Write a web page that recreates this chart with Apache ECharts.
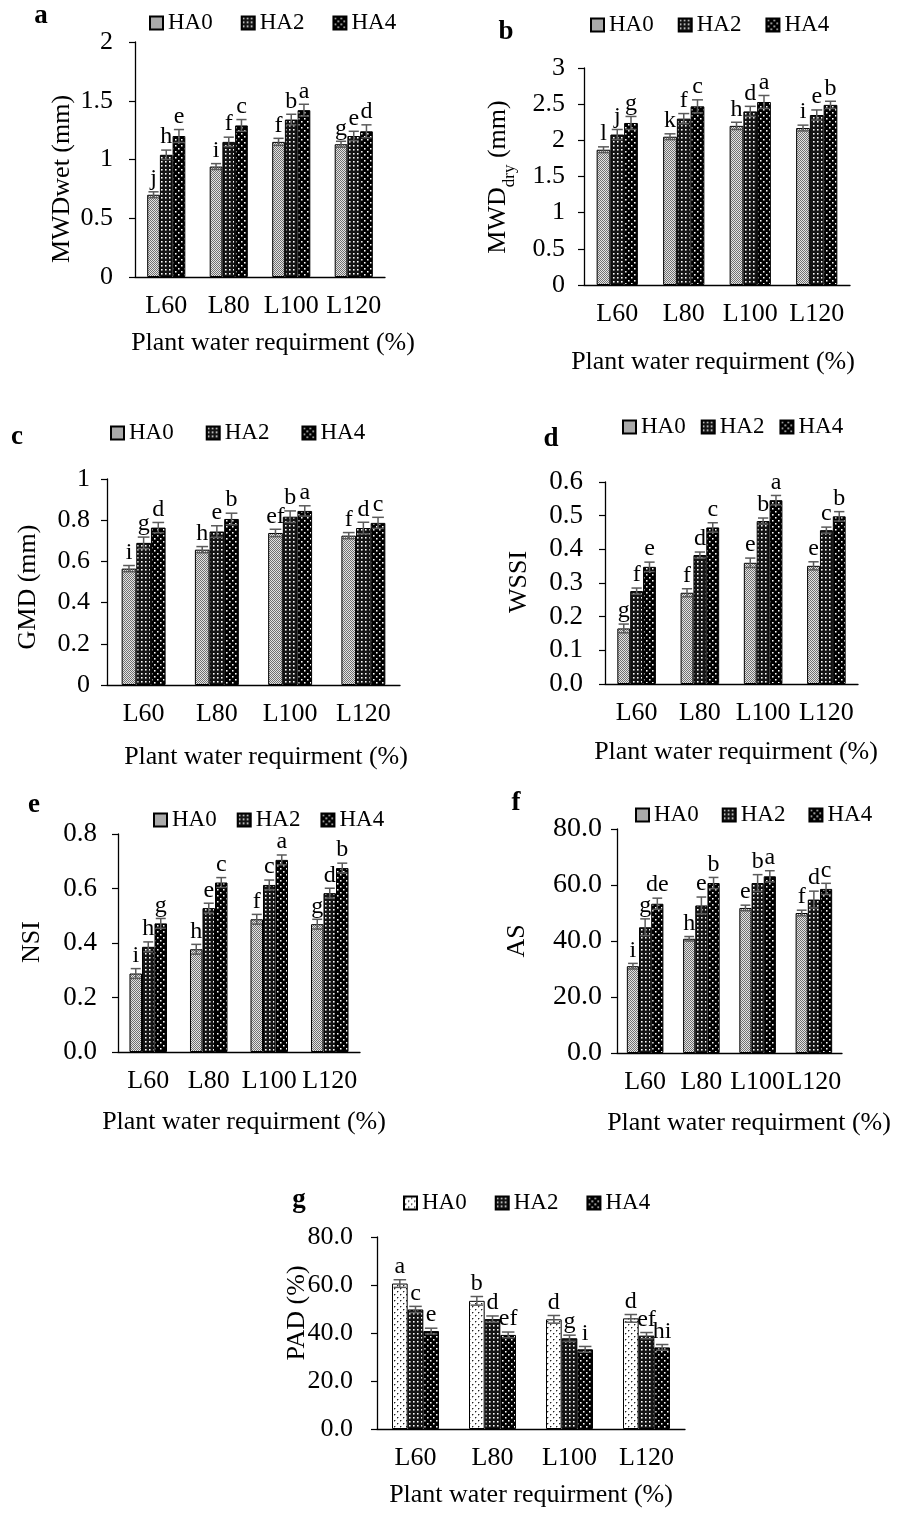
<!DOCTYPE html>
<html><head><meta charset="utf-8">
<script src="https://cdn.jsdelivr.net/npm/echarts@6/dist/echarts.min.js"></script>
<style>html,body{margin:0;padding:0;background:#fff}#c{width:897px;height:1513px}</style>
</head><body><div id="c"></div>
<script>
const categories = ['L60', 'L80', 'L100', 'L120'];
const treatments = ['HA0', 'HA2', 'HA4'];

// a: MWDwet (mm)  rows = HA0, HA2, HA4 ; columns = L60..L120
const mwdWetMean = [[0.70, 0.94, 1.15, 1.13], [1.04, 1.15, 1.34, 1.20], [1.20, 1.29, 1.42, 1.24]];
const mwdWetErr  = [[0.025, 0.025, 0.03, 0.025], [0.04, 0.04, 0.045, 0.04], [0.055, 0.05, 0.05, 0.055]];
const mwdWetSig  = [['j', 'i', 'f', 'g'], ['h', 'f', 'b', 'e'], ['e', 'c', 'a', 'd']];

// b: MWDdry (mm)
const mwdDryMean = [[1.87, 2.05, 2.20, 2.17], [2.08, 2.30, 2.40, 2.35], [2.24, 2.47, 2.53, 2.49]];
const mwdDryErr  = [[0.04, 0.04, 0.05, 0.04], [0.07, 0.07, 0.07, 0.07], [0.09, 0.09, 0.09, 0.05]];
const mwdDrySig  = [['l', 'k', 'h', 'i'], ['j', 'f', 'd', 'e'], ['g', 'c', 'a', 'b']];

// c: GMD (mm)
const gmdMean = [[0.565, 0.657, 0.738, 0.725], [0.690, 0.745, 0.817, 0.762], [0.764, 0.806, 0.845, 0.787]];
const gmdErr  = [[0.015, 0.015, 0.018, 0.015], [0.028, 0.028, 0.028, 0.028], [0.025, 0.028, 0.025, 0.027]];
const gmdSig  = [['i', 'h', 'ef', 'f'], ['g', 'e', 'b', 'd'], ['d', 'b', 'a', 'c']];

// d: WSSI
const wssiMean = [[0.165, 0.271, 0.360, 0.351], [0.276, 0.383, 0.484, 0.457], [0.348, 0.465, 0.546, 0.498]];
const wssiErr  = [[0.013, 0.012, 0.014, 0.012], [0.009, 0.009, 0.009, 0.009], [0.014, 0.014, 0.014, 0.014]];
const wssiSig  = [['g', 'f', 'e', 'e'], ['f', 'd', 'b', 'c'], ['e', 'c', 'a', 'b']];

// e: NSI
const nsiMean = [[0.288, 0.377, 0.487, 0.469], [0.386, 0.528, 0.613, 0.583], [0.472, 0.622, 0.705, 0.675]];
const nsiErr  = [[0.018, 0.018, 0.018, 0.018], [0.018, 0.018, 0.018, 0.018], [0.018, 0.018, 0.018, 0.018]];
const nsiSig  = [['i', 'h', 'f', 'g'], ['h', 'e', 'c', 'd'], ['g', 'c', 'a', 'b']];

// f: AS
const asMean = [[31.0, 40.8, 51.8, 50.0], [44.9, 52.7, 60.7, 54.8], [53.3, 60.7, 63.1, 58.6]];
const asErr  = [[1.0, 0.8, 1.0, 1.0], [3.0, 3.0, 3.0, 3.0], [2.0, 2.0, 2.0, 2.0]];
const asSig  = [['i', 'h', 'e', 'f'], ['g', 'e', 'b', 'd'], ['de', 'b', 'a', 'c']];

// g: PAD (%)
const padMean = [[60.6, 53.4, 45.7, 46.1], [49.8, 45.8, 37.8, 38.9], [40.8, 39.2, 33.2, 34.0]];
const padErr  = [[1.6, 1.8, 1.6, 1.6], [1.3, 1.3, 1.3, 1.3], [1.2, 1.2, 1.2, 1.2]];
const padSig  = [['a', 'b', 'd', 'd'], ['c', 'd', 'g', 'ef'], ['e', 'ef', 'i', 'hi']];

const FF = '"Liberation Serif","Times New Roman",Times,serif';

function pat(w, h, bg, pts) {
  const c = document.createElement('canvas');
  c.width = w; c.height = h;
  const g = c.getContext('2d');
  g.fillStyle = bg; g.fillRect(0, 0, w, h);
  pts.forEach(p => { g.fillStyle = p[4]; g.fillRect(p[0], p[1], p[2], p[3]); });
  return { image: c, repeat: 'repeat' };
}
const pGray = pat(2, 2, '#e4e4e4', [[0, 0, 1, 1, '#707070'], [1, 1, 1, 1, '#707070']]);
const pDense = pat(4, 4, '#141414', [[1, 1, 1, 1, '#ffffff'], [2, 1, 1, 1, '#9a9a9a'], [1, 2, 1, 1, '#9a9a9a'], [2, 2, 1, 1, '#5a5a5a']]);
const pSparse = pat(6, 6, '#000000', [[1, 1, 1, 1, '#ffffff'], [2, 1, 1, 1, '#8a8a8a'], [1, 2, 1, 1, '#8a8a8a'], [2, 2, 1, 1, '#4a4a4a'],
                                     [4, 4, 1, 1, '#ffffff'], [5, 4, 1, 1, '#8a8a8a'], [4, 5, 1, 1, '#8a8a8a'], [5, 5, 1, 1, '#4a4a4a']]);
const pWhiteDot = pat(6, 6, '#ffffff', [[1, 1, 1, 1, '#222'], [2, 1, 1, 1, '#aaa'], [1, 2, 1, 1, '#aaa'],
                                        [4, 4, 1, 1, '#222'], [5, 4, 1, 1, '#aaa'], [4, 5, 1, 1, '#aaa']]);

const panels = [
  { key: 'a', mean: mwdWetMean, err: mwdWetErr, sig: mwdWetSig, grid: [135, 42, 250, 235], y: [0, 2, 0.5], fmt: null, gap: 39, yMargin: 22, ySize: 26, legend: [149, 11.5, 28], pats: [pGray, pDense, pSparse],
    letter: [41, 16], yTitle: { x: 62, y: 179, text: 'MWDwet (mm)' }, xTitle: [273, 343] },
  { key: 'b', mean: mwdDryMean, err: mwdDryErr, sig: mwdDrySig, grid: [584, 68, 266, 217], y: [0, 3, 0.5], fmt: null, gap: 38, yMargin: 19, ySize: 26, legend: [590, 13.5, 24], pats: [pGray, pDense, pSparse],
    letter: [506, 32], yTitle: { x: 500, y: 177, text: '{m|MWD}{s|dry}{m| (mm)}' }, xTitle: [713, 362] },
  { key: 'c', mean: gmdMean, err: gmdErr, sig: gmdSig, grid: [107, 479, 293, 206], y: [0, 1, 0.2], fmt: null, gap: 40, yMargin: 17, ySize: 26, legend: [110, 421.5, 32], pats: [pGray, pDense, pSparse],
    letter: [17, 437], yTitle: { x: 28, y: 587, text: 'GMD (mm)' }, xTitle: [266, 757] },
  { key: 'd', mean: wssiMean, err: wssiErr, sig: wssiSig, grid: [605, 482, 253, 202], y: [0, 0.6, 0.1], fmt: 1, gap: 39, yMargin: 22, ySize: 27, legend: [622, 415.5, 15], pats: [pGray, pDense, pSparse],
    letter: [551, 439], yTitle: { x: 519, y: 582, text: 'WSSI' }, xTitle: [736, 752] },
  { key: 'e', mean: nsiMean, err: nsiErr, sig: nsiSig, grid: [118, 834, 242, 218], y: [0, 0.8, 0.2], fmt: 1, gap: 38, yMargin: 21, ySize: 27, legend: [153, 808.5, 20], pats: [pGray, pDense, pSparse],
    letter: [34, 805], yTitle: { x: 32, y: 942, text: 'NSI' }, xTitle: [244, 1122] },
  { key: 'f', mean: asMean, err: asErr, sig: asSig, grid: [617, 829, 225, 224], y: [0, 80, 20], fmt: 1, gap: 35, yMargin: 15, ySize: 28, legend: [635, 803.5, 23], pats: [pGray, pDense, pSparse],
    letter: [516, 803], yTitle: { x: 517, y: 941, text: 'AS' }, xTitle: [749, 1123] },
  { key: 'g', mean: padMean, err: padErr, sig: padSig, grid: [377, 1237, 308, 192], y: [0, 80, 20], fmt: 1, gap: 39, yMargin: 24, ySize: 26, legend: [403, 1191.5, 28], pats: [pWhiteDot, pDense, pSparse],
    letter: [299, 1200], yTitle: { x: 297, y: 1313, text: 'PAD (%)' }, xTitle: [531, 1495] }
];

const option = {
  animation: false,
  backgroundColor: '#fff',
  textStyle: { fontFamily: FF, color: '#000' },
  grid: [], xAxis: [], yAxis: [], legend: [], series: [], graphic: []
};

panels.forEach((p, i) => {
  option.grid.push({ left: p.grid[0], top: p.grid[1], width: p.grid[2], height: p.grid[3], containLabel: false, outerBoundsMode: 'none' });
  option.xAxis.push({
    type: 'category', gridIndex: i, data: categories,
    axisLine: { lineStyle: { color: '#000', width: 1.3 } }, axisTick: { show: false },
    axisLabel: { interval: 0, fontSize: 26, fontFamily: FF, color: '#000', margin: 16 }
  });
  option.yAxis.push({
    type: 'value', gridIndex: i, min: p.y[0], max: p.y[1], interval: p.y[2],
    splitLine: { show: false },
    axisLine: { show: true, lineStyle: { color: '#000', width: 1.3 } },
    axisTick: { show: true, length: 6, lineStyle: { color: '#000', width: 1.2 } },
    axisLabel: { fontSize: p.ySize, fontFamily: FF, color: '#000', margin: p.yMargin,
      formatter: p.fmt ? (v => v.toFixed(p.fmt)) : null }
  });
  const names = treatments.map(t => p.key + '-' + t);
  option.legend.push({
    data: names, left: p.legend[0], top: p.legend[1], itemGap: p.legend[2], padding: 0,
    itemWidth: 13, itemHeight: 13, icon: 'rect', selectedMode: false,
    formatter: n => n.split('-')[1],
    textStyle: { fontSize: 23, fontFamily: FF, color: '#000' }
  });
  treatments.forEach((t, k) => {
    option.series.push({
      type: 'bar', name: names[k], xAxisIndex: i, yAxisIndex: i,
      data: p.mean[k], barGap: '0%', barCategoryGap: p.gap + '%',
      itemStyle: { color: p.pats[k], borderColor: '#000', borderWidth: 1 },
      emphasis: { disabled: true }
    });
  });
  const errData = [];
  treatments.forEach((t, k) => {
    categories.forEach((c, j) => errData.push([j, p.mean[k][j], p.err[k][j], k, p.sig[k][j]]));
  });
  option.series.push({
    type: 'custom', name: p.key + '-err', xAxisIndex: i, yAxisIndex: i, z: 10,
    encode: { x: 0, y: 1 }, silent: true,
    data: errData.map(d => [d[0], d[1], d[2], d[3]]),
    renderItem: (params, api) => {
      const d = errData[params.dataIndex];
      const band = api.size([1, 0])[0];
      const groupW = band * (1 - p.gap / 100);
      const bw = groupW / 3;
      const cx = api.coord([d[0], 0])[0] - groupW / 2 + (d[3] + 0.5) * bw;
      const top = api.coord([d[0], d[1] + d[2]])[1];
      const bot = api.coord([d[0], d[1] - d[2]])[1];
      const hw = bw * 0.4;
      const st = { stroke: '#5a5a5a', lineWidth: 1.5 };
      return {
        type: 'group', children: [
          { type: 'line', shape: { x1: cx, y1: top, x2: cx, y2: bot }, style: st },
          { type: 'line', shape: { x1: cx - hw, y1: top, x2: cx + hw, y2: top }, style: st },
          { type: 'line', shape: { x1: cx - hw, y1: bot, x2: cx + hw, y2: bot }, style: st },
          { type: 'text', x: cx, y: top - 1, style: { text: d[4], fontSize: 24, fontFamily: FF, fill: '#000', align: 'center', verticalAlign: 'bottom' } }
        ]
      };
    }
  });
  option.graphic.push({ type: 'text', x: p.letter[0], y: p.letter[1],
    style: { text: p.key, font: 'bold 27px ' + FF, fill: '#000', align: 'center', verticalAlign: 'middle' } });
  option.graphic.push({ type: 'text', x: p.xTitle[0], y: p.xTitle[1],
    style: { text: 'Plant water requirment (%)', font: '26px ' + FF, fill: '#000', align: 'center', verticalAlign: 'middle' } });
  const yt = { type: 'text', x: p.yTitle.x, y: p.yTitle.y, rotation: Math.PI / 2,
    style: { text: p.yTitle.text, font: '26px ' + FF, fill: '#000', align: 'center', verticalAlign: 'middle' } };
  if (p.key === 'b') {
    yt.style.rich = {
      m: { fontSize: 26, fontFamily: FF, lineHeight: 30, verticalAlign: 'top' },
      s: { fontSize: 17, fontFamily: FF, lineHeight: 17, padding: [16, 0, 0, 0], verticalAlign: 'top' }
    };
  }
  option.graphic.push(yt);
});

const chart = echarts.init(document.getElementById('c'), null, { renderer: 'canvas' });
chart.setOption(option);
</script>
</body></html>
